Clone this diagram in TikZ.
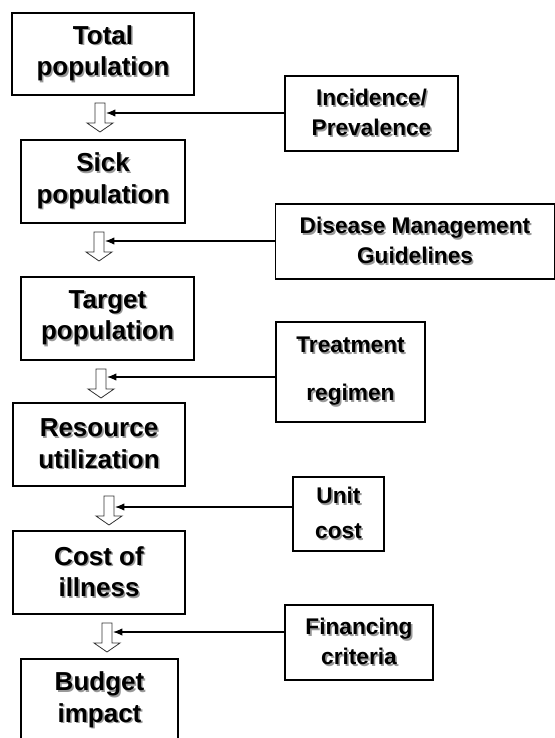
\documentclass[tikz,border=0pt]{standalone}
\usepackage{fontspec}
\setmainfont{Liberation Sans}
\usetikzlibrary{arrows.meta}
\tikzset{
    %Define standard arrow tip
    >={Latex[length=7pt,width=5.5pt]},
    %Define style for the chain boxes
    chainbox/.style={
           rectangle,
           draw=black, line width=0.8pt,
           align=center,
           inner sep=0pt,
           font=\fontsize{19.5}{23.5}\selectfont\bfseries},
    %Define style for the input boxes
    inbox/.style={
           rectangle,
           draw=black, line width=0.8pt,
           align=center,
           inner sep=0pt,
           font=\fontsize{17}{22.5}\selectfont\bfseries},
    % Define hollow arrow style
    hollow/.style={
           draw=black!80,
           fill=white,
           line width=0.6pt},
    % Define input arrow style
    feed/.style={
           ->,
           line width=0.9pt}
}
% text with a grey shadow
\newcommand\shd[1]{\makebox[0pt][l]{\hspace{1.2pt}\raisebox{-1.2pt}{\textcolor{black!40}{#1}}}#1}
% hollow arrow: centre x, top y, name of feed point, feed y
\newcommand\holarrow[4]{%
  \draw[hollow] (#1-5,#2) -- (#1+5,#2) -- (#1+5,#2+20) -- (#1+13,#2+20)
     -- (#1,#2+29) -- (#1-13,#2+20) -- (#1-5,#2+20) -- cycle;
  \coordinate (#3) at (#1+6,#4);}

\begin{document}
\begin{tikzpicture}[x=0.75pt, y=-0.75pt]
\useasboundingbox (0,0) rectangle (555,738);
\clip (0,0) rectangle (555,738);
 \node[chainbox, minimum width=136.5pt, minimum height=61.5pt](tot) at (103,54)
   {\shd{Total}\\\shd{population}};
 \node[chainbox, minimum width=123pt, minimum height=62.25pt](sick) at (103,181.5)
   {\shd{Sick}\\\shd{population}};
 \node[chainbox, minimum width=129.75pt, minimum height=62.25pt](targ) at (107.5,318.5)
   {\shd{Target}\\\shd{population}};
 \node[chainbox, minimum width=129pt, minimum height=62.25pt](res) at (99,444.5)
   {\shd{Resource}\\\shd{utilization}};
 \node[chainbox, minimum width=129pt, minimum height=62.25pt](cost) at (99,572.5)
   {\shd{Cost of}\\\shd{illness}};
 \node[chainbox, minimum width=117.75pt, minimum height=62.25pt](bud) at (99.5,700.5)
   {\shd{Budget}\\\shd{impact}};
 % inputs
 \node[inbox, minimum width=129.75pt, minimum height=56.25pt](inc) at (371.5,113.5)
   {\shd{Incidence/}\\\shd{Prevalence}};
 \node[inbox, minimum width=209.25pt, minimum height=56.25pt](dis) at (415,241.5)
   {\shd{Disease Management}\\\shd{Guidelines}};
 \node[inbox, minimum width=111.75pt, minimum height=75pt,
   font=\fontsize{17}{36}\selectfont\bfseries](treat) at (350.5,372)
   {\shd{Treatment}\\\shd{regimen}};
 \node[inbox, minimum width=68.25pt, minimum height=55.5pt,
   font=\fontsize{17}{26}\selectfont\bfseries](unit) at (338.5,514)
   {\shd{Unit}\\\shd{cost}};
 \node[inbox, minimum width=111pt, minimum height=56.25pt](fin) at (359,642.5)
   {\shd{Financing}\\\shd{criteria}};
 % hollow arrows
 \holarrow{100}{103}{t1}{113}
 \holarrow{99}{232}{t2}{241}
 \holarrow{101}{369}{t3}{377}
 \holarrow{109}{496}{t4}{507}
 \holarrow{107}{623}{t5}{632}
 \draw[feed] (inc.west |- t1) -- (t1);
 \draw[feed] (dis.west |- t2) -- (t2);
 \draw[feed] (treat.west |- t3) -- (t3);
 \draw[feed] (unit.west |- t4) -- (t4);
 \draw[feed] (fin.west |- t5) -- (t5);
\end{tikzpicture}
\end{document}
